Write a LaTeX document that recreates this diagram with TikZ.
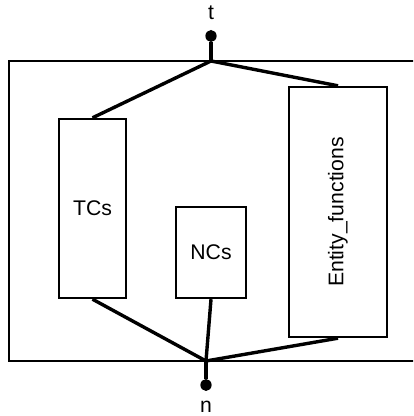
\documentclass[tikz,border=0pt]{standalone}
\usepackage{fontspec}
\setmainfont{Liberation Sans}
\usetikzlibrary{calc,positioning,shapes}
\tikzstyle{line} = [line width=1.7pt]
\tikzstyle{frame line} = [line width=1.3pt]
\tikzstyle{block node}=[draw, line width=1.2pt, rectangle, inner sep=0pt, align=center]
\tikzstyle{port node}=[fill, ellipse, minimum width=5.6pt, minimum height=6pt, inner sep=0pt]

\begin{document}
\begin{tikzpicture}[x=0.5pt,y=0.5pt,font=\fontsize{10.6}{12}\selectfont]
        \useasboundingbox (0,0) rectangle (413,416);
        \clip (0,0) rectangle (413,416);
        % outer block, open on the right
        \draw[frame line] (9,55) rectangle (430,355);

        \coordinate (top) at (211,355);
        \coordinate (bottom) at (206,55);

        \node[port node] (t-port) at (211,380) {};
        \node[port node] (n-port) at (206,31) {};
        \node (t-label) at (211,403) {t};
        \node (n-label) at (206,9) {n};

        \node[block node,minimum width=33.5pt,minimum height=89.5pt] (tcs) at (92.5,207.5) {TCs};
        \node[block node,minimum width=35pt,minimum height=45.5pt] (ncs) at (211,163.5) {NCs};
        \node[block node,minimum width=49pt,minimum height=125pt] (entity) at (338,204) {\rotatebox{90}{Entity\_functions}};

        \draw[line] (t-port) -- (top);
        \draw[line] (bottom) -- (n-port);

        \draw[line] (top) -- (tcs.north);
        \draw[line] (top) -- (entity.north);
        \draw[line] (tcs.south) -- (bottom);
        \draw[line] (ncs.south) -- (bottom);
        \draw[line] (entity.south) -- (bottom);

    \end{tikzpicture}
\end{document}
